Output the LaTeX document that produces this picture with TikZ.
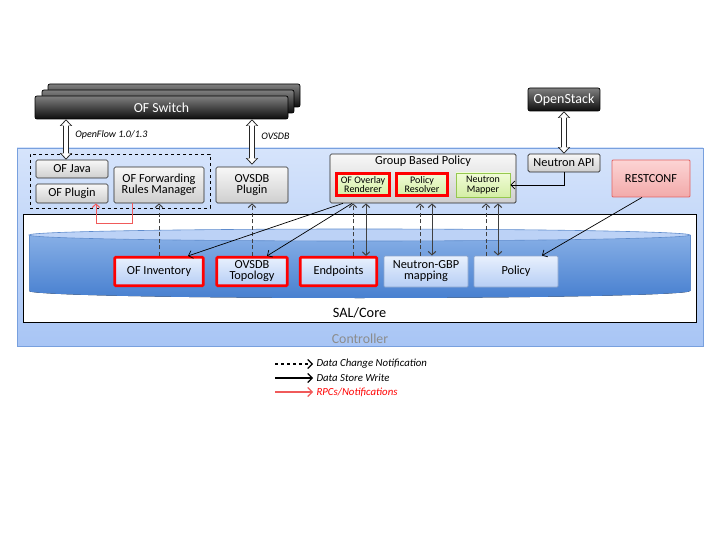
\documentclass[tikz,border=0pt]{standalone}
\usepackage{fontspec}
\setmainfont{Carlito}
\usetikzlibrary{arrows.meta,calc}

\definecolor{ctrltop}{RGB}{214,228,251}
\definecolor{ctrlbot}{RGB}{168,197,245}
\definecolor{ctrlline}{RGB}{120,160,222}
\definecolor{cyltop}{RGB}{188,210,246}
\definecolor{cylA}{RGB}{135,175,230}
\definecolor{cylB}{RGB}{72,128,208}
\definecolor{cylline}{RGB}{95,140,205}
\definecolor{storetop}{RGB}{232,240,253}
\definecolor{storebot}{RGB}{182,206,245}
\definecolor{storeline}{RGB}{140,165,205}
\definecolor{greentop}{RGB}{240,252,215}
\definecolor{greenbot}{RGB}{212,238,165}
\definecolor{mapline}{RGB}{150,200,80}
\definecolor{resttop}{RGB}{252,212,212}
\definecolor{restbot}{RGB}{242,170,170}
\definecolor{restline}{RGB}{225,100,100}
\definecolor{rpcred}{RGB}{240,90,90}

\begin{document}
\begin{tikzpicture}[x=1pt, y=-1pt,
                font=\fontsize{12.3}{13}\selectfont,
                graybox/.style={rectangle, draw=black!85, line width=0.7pt, rounded corners=1.5pt, top color=gray!6, bottom color=gray!38, align=center, inner sep=1pt},
                darkbox/.style={rectangle, draw=black, line width=0.7pt, rounded corners=2pt, top color=black!50, bottom color=black!95, text=white, align=center, inner sep=1pt},
                store/.style={rectangle, draw=storeline, line width=0.8pt, rounded corners=1pt, top color=storetop, bottom color=storebot, align=center, inner sep=1pt, minimum height=31},
                redline/.style={draw=red, line width=2.6pt},
                gbpbox/.style={rectangle, draw=mapline, line width=0.8pt, top color=greentop, bottom color=greenbot, align=center, inner sep=1pt, font=\fontsize{10}{9.5}\selectfont},
                arr/.style={-{Straight Barb[length=3.5pt,width=7.5pt]}, line width=1pt, black!75},
                dasharr/.style={arr, dash pattern=on 4pt off 2.5pt},
                dblarr/.style={arr, {Straight Barb[length=3.5pt,width=7.5pt]}-{Straight Barb[length=3.5pt,width=7.5pt]}},
                thinarr/.style={-{Straight Barb[length=4pt,width=8pt]}, line width=0.7pt, black},
                rpc/.style={-{Straight Barb[length=3.5pt,width=7.5pt]}, line width=1pt, rpcred},
                legarr/.style={-{Straight Barb[length=4.5pt,width=9pt]}, line width=1.1pt},
                hollow/.style={line width=6pt, black!85, {Triangle[length=6.5pt,width=12pt]}-{Triangle[length=6.5pt,width=12pt]},
                    postaction={draw=white, line width=4pt, shorten <=1.3pt, shorten >=1.3pt, {Triangle[length=5pt,width=9pt]}-{Triangle[length=5pt,width=9pt]}}},
                lbl/.style={font=\fontsize{10}{11}\selectfont\itshape},
            ]
            \useasboundingbox[fill=white] (0,0) rectangle (720,540);
            \node[darkbox, minimum width=252, minimum height=23] (sw3) at (174,95.5) {};
            \node[darkbox, minimum width=252, minimum height=23] (sw2) at (168,101.5) {};
            \node[darkbox, minimum width=253, minimum height=23, font=\fontsize{13.8}{14}\selectfont] (sw1) at (161.5,107.5) {OF Switch};
            \node[darkbox, minimum width=72, minimum height=23, font=\fontsize{14}{14}\selectfont] (openstack) at (564,99.5) {OpenStack};

            \node[rectangle, draw=ctrlline, line width=0.9pt, top color=ctrltop, bottom color=ctrlbot, minimum width=686, minimum height=198,
                label={[anchor=south, inner sep=3pt, text=black!45, font=\fontsize{13.8}{14}\selectfont]south:Controller}] (ctrl) at (360,247) {};
            \node[rectangle, draw=black, line width=0.8pt, fill=white, minimum width=673, minimum height=108,
                label={[anchor=south, inner sep=4pt, font=\fontsize{14.3}{15}\selectfont]south:SAL/Core}] (salcore) at (359.5,268) {};
            \fill[top color=cylA, bottom color=cylB] (29,235) -- (29,291) arc[start angle=180, end angle=360, x radius=330.5pt, y radius=7pt] -- (690,235) -- cycle;
            \draw[cylline, line width=0.6pt] (29,235) -- (29,291) (690,235) -- (690,291);
            \filldraw[fill=cyltop, draw=cylline, line width=0.6pt] (359.5,235) ellipse[x radius=330.5pt, y radius=6pt];

            \node[rectangle, draw=black, dashed, line width=0.7pt, minimum width=180, minimum height=54] (ofbox) at (120,181) {};
            \node[graybox, minimum width=72, minimum height=18] (ofjava) at (72,169) {OF Java};
            \node[graybox, minimum width=72, minimum height=19] (ofplugin) at (72,193.5) {OF Plugin};
            \node[graybox, minimum width=90, minimum height=36] (frm) at (159,185) {OF Forwarding\\[-2pt]Rules Manager};
            \node[graybox, minimum width=72, minimum height=36] (ovsdbplugin) at (252,185) {OVSDB\\[-2pt]Plugin};
            \node[graybox, minimum width=186, minimum height=49,
                label={[anchor=north, inner sep=2.5pt]north:Group Based Policy}] (gbp) at (423,178.5) {};
            \node[gbpbox, redline, minimum width=53.5, minimum height=22.5] (ofor) at (363,184.5) {OF Overlay\\Renderer};
            \node[gbpbox, redline, minimum width=51.5, minimum height=22.5] (resolver) at (422,184.5) {Policy\\Resolver};
            \node[gbpbox, minimum width=54, minimum height=24] (mapper) at (483,185) {Neutron\\Mapper};
            \node[graybox, minimum width=72, minimum height=18] (neutronapi) at (564,163) {Neutron API};
            \node[rectangle, draw=restline, line width=0.8pt, rounded corners=1pt, top color=resttop, bottom color=restbot, minimum width=78, minimum height=37] (restconf) at (651,178.5) {RESTCONF};

            \node[store, redline, minimum width=88.5, minimum height=28.5] (ofinv) at (159,271.5) {OF Inventory};
            \node[store, redline, minimum width=70.5, minimum height=28.5] (ovsdbtopo) at (252,271.5) {OVSDB\\[-2pt]Topology};
            \node[store, redline, minimum width=76.5, minimum height=28.5] (endpoints) at (338.5,271.5) {Endpoints};
            \node[store, minimum width=84] (ngbp) at (426,271.5) {Neutron-GBP\\[-2pt]mapping};
            \node[store, minimum width=84] (policy) at (516,271.5) {Policy};

            \draw[hollow] ($(sw1.south -| ofjava.north)+(-6,0)$) -- node[pos=0.38, right, lbl, xshift=3pt, text=black] {OpenFlow 1.0/1.3} ($(ofjava.north)+(-6,0)$);
            \draw[hollow] (ovsdbplugin.north |- sw1.south) -- node[pos=0.38, right, lbl, xshift=3pt, text=black] {OVSDB} ($(ovsdbplugin.north)+(0,-2)$);
            \draw[hollow] (openstack.south) -- (neutronapi.north);

            \draw[rpc] ($(frm.south)+(-27,0)$) -- ++(0,20) -| ($(ofplugin.south)+(24,0)$);
            \draw[dasharr] (ofinv.north) -- (frm.south);
            \draw[dasharr] (ovsdbtopo.north) -- (ovsdbplugin.south);
            \draw[dasharr] ($(endpoints.north)+(14.5,0)$) -- ($(endpoints.north |- gbp.south)+(14.5,0)$);
            \draw[dblarr] ($(endpoints.north)+(27.5,0)$) -- ($(endpoints.north |- gbp.south)+(27.5,0)$);
            \draw[dasharr] ($(ngbp.north)+(-6,0)$) -- ($(ngbp.north |- gbp.south)+(-6,0)$);
            \draw[dblarr] ($(ngbp.north)+(6,0)$) -- ($(ngbp.north |- gbp.south)+(6,0)$);
            \draw[dasharr] ($(policy.north)+(-30,0)$) -- ($(policy.north |- gbp.south)+(-30,0)$);
            \draw[dblarr] ($(policy.north)+(-18,0)$) -- ($(policy.north |- gbp.south)+(-18,0)$);
            \draw[thinarr] ($(gbp.south)+(-80,0)$) -- ($(ofinv.north)+(29,0)$);
            \draw[thinarr] ($(gbp.south)+(-71,0)$) -- ($(ovsdbtopo.north)+(15,0)$);
            \draw[thinarr] (neutronapi.south) |- (mapper.east);
            \draw[thinarr] ($(restconf.south)+(-9,0)$) -- ($(policy.north)+(26,0)$);

            \coordinate (lgs1) at (275,364);
            \coordinate (lgs2) at (275,378);
            \coordinate (lgs3) at (275,392);
            \node[lbl, anchor=west, font=\fontsize{10.8}{11}\selectfont\itshape] (lg1) at (313,364) {Data Change Notification};
            \node[lbl, anchor=west, font=\fontsize{10.8}{11}\selectfont\itshape] (lg2) at (313,378) {Data Store Write};
            \node[lbl, anchor=west, font=\fontsize{10.8}{11}\selectfont\itshape, text=red] (lg3) at (313,392) {RPCs/Notifications};
            \draw[legarr, dashed] (lgs1) -- (lg1.west);
            \draw[legarr] (lgs2) -- (lg2.west);
            \draw[legarr, rpcred] (lgs3) -- (lg3.west);
        \end{tikzpicture}
\end{document}
